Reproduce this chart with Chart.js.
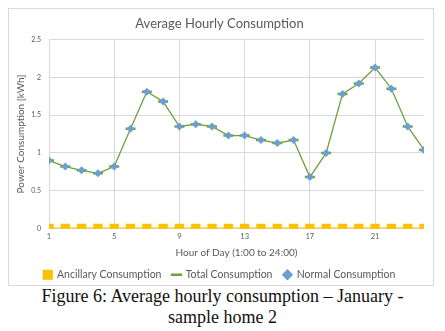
<!DOCTYPE html>
<html>
<head>
<meta charset="utf-8">
<script src="https://cdn.jsdelivr.net/npm/chart.js@4"></script>
<style>
	body { margin: 0; background: #fff; width: 445px; height: 331px; position: relative; overflow: hidden; }
	#box { position: absolute; left: 8px; top: 8px; width: 424px; height: 276px; border: 1px solid #d9d9d9; }
	#caption { position: absolute; left: 0; top: 286px; width: 445px; text-align: center; font-family: "Liberation Serif", serif; font-size: 18px; line-height: 21px; color: #111; }
</style>
</head>
<body>
<div id="box"><canvas id="myChart" width="424" height="276"></canvas></div>
<div id="caption">Figure 6: Average hourly consumption – January -<br>sample home 2</div>
<script>
var hours = [1, 2, 3, 4, 5, 6, 7, 8, 9, 10, 11, 12, 13, 14, 15, 16, 17, 18, 19, 20, 21, 22, 23, 24];
var ancillary = [0, 0, 0, 0, 0, 0, 0, 0, 0, 0, 0, 0, 0, 0, 0, 0, 0, 0, 0, 0, 0, 0, 0, 0];
var normal = [0.90, 0.82, 0.77, 0.73, 0.82, 1.32, 1.81, 1.68, 1.35, 1.38, 1.35, 1.23, 1.23, 1.17, 1.13, 1.17, 0.68, 1.00, 1.78, 1.92, 2.13, 1.85, 1.35, 1.04];
var total = [0.90, 0.82, 0.77, 0.73, 0.82, 1.32, 1.81, 1.68, 1.35, 1.38, 1.35, 1.23, 1.23, 1.17, 1.13, 1.17, 0.68, 1.00, 1.78, 1.92, 2.13, 1.85, 1.35, 1.04];
var x_ticks = [1, 5, 9, 13, 17, 21];
var y_ticks = [0, 0.5, 1, 1.5, 2, 2.5];

function pts(values) {
	return values.map(function (v, i) {
		return { x: hours[i], y: v };
	});
}

var font_family = "Lato, 'Open Sans', sans-serif";
var grey = "#595959";

const data = {
	datasets: [
		{
			label: "Ancillary Consumption",
			data: pts(ancillary),
			borderColor: "#ffc000",
			backgroundColor: "#ffc000",
			borderWidth: 2.2,
			pointStyle: "rect",
			pointRadius: 5,
			pointHoverRadius: 5,
			order: 3,
		},
		{
			label: "Total Consumption",
			data: pts(total),
			borderColor: "#70a03c",
			backgroundColor: "#70a03c",
			borderWidth: 1.3,
			pointStyle: "line",
			pointRadius: 5,
			pointBorderWidth: 2.5,
			order: 2,
		},
		{
			label: "Normal Consumption",
			data: pts(normal),
			borderColor: "#6a9fd4",
			backgroundColor: "#6a9fd4",
			showLine: false,
			pointStyle: "rectRot",
			pointRadius: 4,
			pointBorderWidth: 0,
			order: 1,
		},
	],
};

const config = {
	type: "line",
	data: data,
	options: {
		responsive: false,
		animation: false,
		layout: { padding: { left: 6, right: 9, top: 0, bottom: -5 } },
		plugins: {
			title: {
				display: true,
				text: "Average Hourly Consumption",
				color: grey,
				font: { family: font_family, size: 13, weight: "normal" },
				padding: { top: 7, bottom: 8 },
			},
			legend: {
				position: "bottom",
				labels: {
					usePointStyle: true,
					color: grey,
					font: { family: font_family, size: 10.5 },
					boxWidth: 8,
					boxHeight: 8,
					padding: 11,
					sort: function (a, b) {
						return a.datasetIndex - b.datasetIndex;
					},
				},
			},
			tooltip: { enabled: false },
		},
		scales: {
			x: {
				type: "linear",
				min: 1,
				max: 24,
				afterBuildTicks: function (scale) {
					scale.ticks = x_ticks.map(function (v) {
						return { value: v };
					});
				},
				afterFit: function (scale) {
					scale.height = 30;
				},
				grid: { color: "#d9d9d9", drawTicks: false },
				border: { display: false },
				ticks: { color: grey, font: { family: font_family, size: 7.5 }, padding: 4, maxRotation: 0 },
				title: {
					display: true,
					text: "Hour of Day (1:00 to 24:00)",
					color: grey,
					font: { family: font_family, size: 10 },
					padding: { top: 5, bottom: 0 },
				},
			},
			y: {
				min: 0,
				max: 2.5,
				afterBuildTicks: function (scale) {
					scale.ticks = y_ticks.map(function (v) {
						return { value: v };
					});
				},
				afterFit: function (scale) {
					scale.width = 34;
				},
				grid: { color: "#d9d9d9", drawTicks: false },
				border: { display: false },
				ticks: {
					color: grey,
					font: { family: font_family, size: 7 },
					padding: 8,
					callback: function (v) {
						return String(v);
					},
				},
				title: {
					display: true,
					text: "Power Consumption [kWh]",
					color: grey,
					font: { family: font_family, size: 10 },
					padding: { top: 0, bottom: 2 },
				},
			},
		},
	},
};

const myChart = new Chart(document.getElementById("myChart"), config);
</script>
</body>
</html>
